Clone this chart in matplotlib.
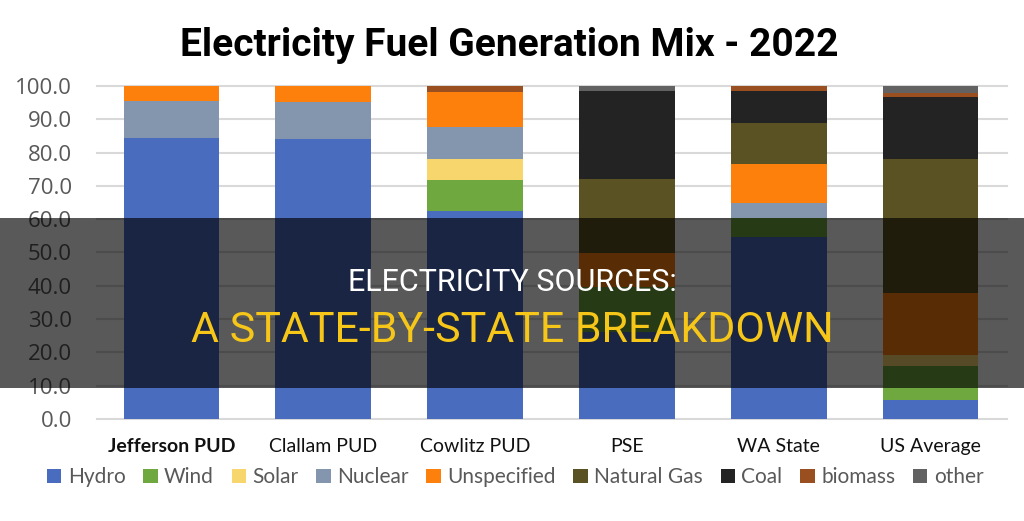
import matplotlib
matplotlib.use("Agg")
import matplotlib.pyplot as plt
from matplotlib.patches import Rectangle, Patch
import numpy as np

# data (percent of generation)
utilities = ["Jefferson PUD", "Clallam PUD", "Cowlitz PUD", "PSE", "WA State", "US Average"]
sources = ["Hydro", "Wind", "Solar", "Nuclear", "Unspecified", "Natural Gas", "Coal", "biomass", "other"]

hydro       = [84.5, 84.1, 62.4, 26.2, 54.7, 5.7]
wind        = [0.0, 0.0, 9.4, 13.5, 5.5, 10.3]
solar       = [0.0, 0.0, 6.2, 0.0, 0.0, 3.2]
nuclear     = [11.1, 11.2, 9.8, 0.0, 4.5, 0.0]
unspecified = [4.4, 4.7, 10.3, 10.2, 11.9, 18.7]
natural_gas = [0.0, 0.0, 0.0, 22.1, 12.2, 40.1]
coal        = [0.0, 0.0, 0.0, 26.6, 9.8, 18.6]
biomass     = [0.0, 0.0, 1.9, 0.0, 1.4, 1.4]
other       = [0.0, 0.0, 0.0, 1.4, 0.0, 2.0]

series = [hydro, wind, solar, nuclear, unspecified, natural_gas, coal, biomass, other]
colors = ["#4a6cbf", "#6fa83e", "#f8d66e", "#8495ae", "#fd7f0c",
          "#5a5222", "#232323", "#9a4f20", "#626262"]

fig = plt.figure(figsize=(10.24, 5.21), dpi=100)
ax = fig.add_axes([0.0947, 0.196, 0.8883, 0.639])

x = np.arange(len(utilities))
bottom = np.zeros(len(utilities))
for vals, c in zip(series, colors):
    ax.bar(x, vals, width=0.63, bottom=bottom, color=c, zorder=3)
    bottom += np.array(vals)

ax.set_xlim(-0.49, 5.5)
ax.set_ylim(0, 100)
ax.set_yticks(np.arange(0, 101, 10))
ax.set_yticklabels([f"{v:.1f}" for v in np.arange(0, 101, 10)])
ax.grid(axis="y", color="#d9d9d9", linewidth=1.5, zorder=0)
for gl in ax.get_ygridlines():
    gl.set_clip_on(False)
for s in ax.spines.values():
    s.set_visible(False)
ax.tick_params(axis="both", length=0)
ax.tick_params(axis="y", labelsize=16, labelcolor="#595959", pad=18)
for lbl in ax.get_yticklabels():
    lbl.set_family("Open Sans")
ax.set_xticks(x)
ax.set_xticklabels(utilities, fontsize=14, color="#111111", family="Lato")
ax.tick_params(axis="x", pad=14)
ax.get_xticklabels()[0].set_fontweight("bold")

fig.text(0.497, 0.912, "Electricity Fuel Generation Mix - 2022", ha="center", va="center",
         fontsize=28, fontweight="bold", family="Roboto", color="black")

handles = [Patch(facecolor=c) for c in colors]
fig.legend(handles, sources, loc="center", bbox_to_anchor=(0.503, 0.084), ncol=9,
           frameon=False, labelcolor="#595959", handlelength=0.7,
           handleheight=0.7, handletextpad=0.3, columnspacing=0.85,
           prop={"family": "Lato", "size": 15})

# dark banner across the middle with the headline text
fig.patches.append(Rectangle((0, 0.255), 1, 0.327, transform=fig.transFigure,
                             facecolor="black", alpha=0.65, zorder=10))
fig.text(0.50, 0.457, "ELECTRICITY SOURCES:", ha="center", va="center", fontsize=22,
         color="white", family="Roboto", zorder=11)
fig.text(0.50, 0.366, "A STATE-BY-STATE BREAKDOWN", ha="center", va="center", fontsize=31,
         color="#f6c619", family="Roboto", zorder=11)

fig.savefig("out.png", dpi=100)
